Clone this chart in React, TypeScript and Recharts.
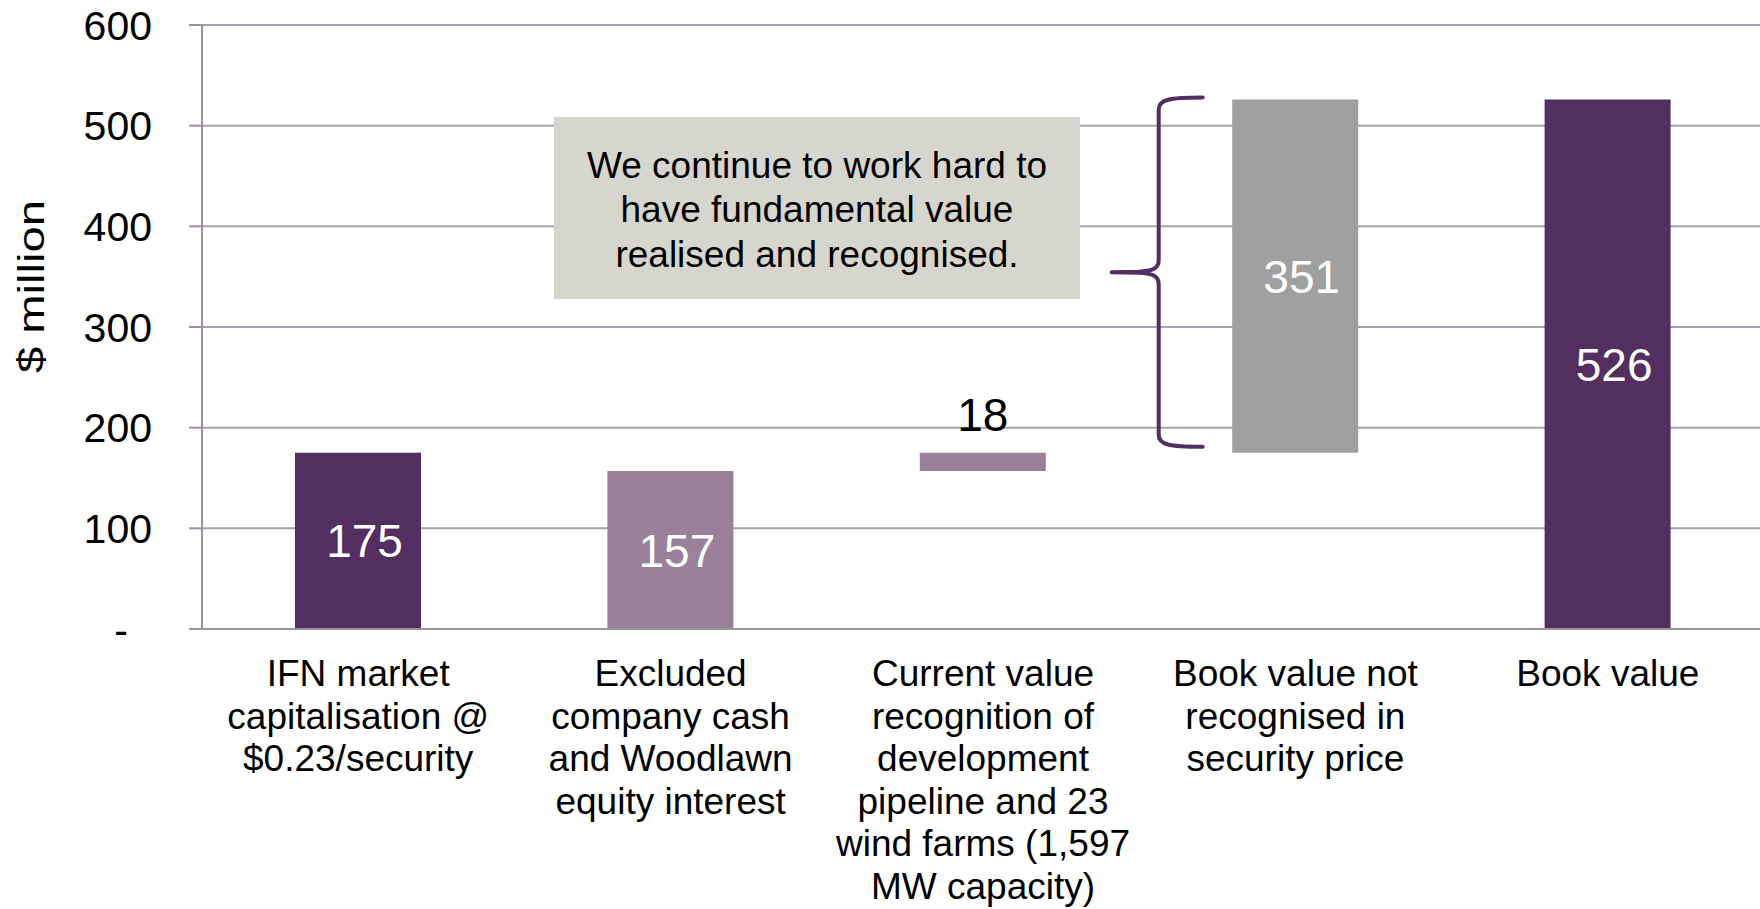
import React from 'react';
import {
  BarChart,
  Bar,
  XAxis,
  YAxis,
  CartesianGrid,
  Cell,
  LabelList,
  ReferenceArea,
} from 'recharts';

// ---------- data ----------
const categoryLabelLines: string[][] = [
  ['IFN market', 'capitalisation @', '$0.23/security'],
  ['Excluded', 'company cash', 'and Woodlawn', 'equity interest'],
  ['Current value', 'recognition of', 'development', 'pipeline and 23', 'wind farms (1,597', 'MW capacity)'],
  ['Book value not', 'recognised in', 'security price'],
  ['Book value'],
];
const categories: string[] = categoryLabelLines.map((l) => l.join(' '));
const barStarts: number[] = [0, 0, 157, 175, 0];
const barValues: number[] = [175, 157, 18, 351, 526];
const barColors: string[] = ['#532E60', '#9A8099', '#9A8099', '#A0A0A0', '#532E60'];
const labelPlacement: string[] = ['inside', 'inside', 'top', 'inside', 'inside'];
const yTicks: number[] = [0, 100, 200, 300, 400, 500, 600];
const boundaryTicks: number[] = [0, 1, 2, 3, 4, 5];
const braceLow = 181;
const braceHigh = 528;
const noteLines: string[] = ['We continue to work hard to', 'have fundamental value', 'realised and recognised.'];
const yTitle = '$ million';

const data = categories.map((c, i) => ({
  name: c,
  base: barStarts[i],
  value: barValues[i],
  insideLabel: labelPlacement[i] === 'inside' ? barValues[i] : null,
  topLabel: labelPlacement[i] === 'top' ? barValues[i] : null,
}));

const FONT = '"Liberation Sans", Arial, Helvetica, sans-serif';
const GRID = '#A99FB2';
const AXIS = '#9C90A5';
const BRACE = '#532E60';

const lineMap: Record<string, string[]> = {};
categories.forEach((c, i) => {
  lineMap[c] = categoryLabelLines[i];
});

const CategoryTick = (props: any) => {
  const { x, y, payload } = props;
  const lines = lineMap[payload.value] || [String(payload.value)];
  return (
    <g transform={`translate(${x},${y})`}>
      <text textAnchor="middle" fontFamily={FONT} fontSize={37} fill="#000">
        {lines.map((l, i) => (
          <tspan key={i} x={0} y={45 + i * 42.5}>
            {l}
          </tspan>
        ))}
      </text>
    </g>
  );
};

const ValueTick = (props: any) => {
  const { x, y, payload } = props;
  const isZero = payload.value === 0;
  return (
    <text
      x={isZero ? x - 24 : x}
      y={y}
      dy="0.355em"
      textAnchor="end"
      fontFamily={FONT}
      fontSize={41}
      fill="#000"
    >
      {isZero ? '-' : payload.value}
    </text>
  );
};

const getBox = (props: any) => {
  const vb = props.viewBox || props;
  return { x: vb.x, y: vb.y, width: vb.width, height: vb.height };
};

const InsideLabel = (props: any) => {
  const { value } = props;
  if (value === null || value === undefined) return null;
  const { x, y, width, height } = getBox(props);
  return (
    <text
      x={x + width / 2 + 6.5}
      y={y + height / 2}
      dy="0.36em"
      textAnchor="middle"
      fontFamily={FONT}
      fontSize={46}
      fill="#FFFFFF"
    >
      {value}
    </text>
  );
};

const TopLabel = (props: any) => {
  const { value } = props;
  if (value === null || value === undefined) return null;
  const { x, y, width } = getBox(props);
  return (
    <text
      x={x + width / 2}
      y={y - 22}
      textAnchor="middle"
      fontFamily={FONT}
      fontSize={46}
      fill="#000000"
    >
      {value}
    </text>
  );
};

const BraceShape = (props: any) => {
  const { x, y, height } = props;
  if (x === undefined || y === undefined) return null;
  const top = y;
  const bottom = y + height;
  const mid = y + height / 2;
  const bx = x + 19.5;
  const tipX = x - 27.5;
  const endX = x + 63.5;
  const d = [
    `M ${endX} ${top}`,
    `C ${bx + 10} ${top} ${bx} ${top + 2} ${bx} ${top + 12}`,
    `L ${bx} ${mid - 12}`,
    `C ${bx} ${mid - 3} ${bx - 8} ${mid - 1} ${bx - 20} ${mid - 0.5}`,
    `L ${tipX} ${mid}`,
    `M ${tipX} ${mid}`,
    `L ${bx - 20} ${mid + 0.5}`,
    `C ${bx - 8} ${mid + 1} ${bx} ${mid + 3} ${bx} ${mid + 12}`,
    `L ${bx} ${bottom - 12}`,
    `C ${bx} ${bottom - 2} ${bx + 10} ${bottom} ${endX} ${bottom}`,
  ].join(' ');
  return <path d={d} fill="none" stroke={BRACE} strokeWidth={4} strokeLinecap="round" strokeLinejoin="round" />;
};

const YTitle = (props: any) => {
  const vb = props.viewBox || { x: 0, y: 25, width: 202, height: 604 };
  const cy = vb.y + vb.height / 2 - 40.5;
  return (
    <text
      transform={`translate(44,${cy}) rotate(-90)`}
      textAnchor="middle"
      fontFamily={FONT}
      fontSize={37}
      fill="#000"
      textLength={173}
      lengthAdjust="spacingAndGlyphs"
    >
      {yTitle}
    </text>
  );
};

export default function App() {
  return (
    <div style={{ position: 'absolute', left: 0, top: 0, width: 1760, height: 909, background: '#fff', overflow: 'hidden' }}>
      <BarChart
        width={1760}
        height={909}
        data={data}
        margin={{ top: 25, right: -4, bottom: 0, left: 0 }}
        barSize={126}
      >
        <CartesianGrid horizontal vertical={false} stroke={GRID} strokeWidth={2} />
        <XAxis
          xAxisId="b"
          dataKey="name"
          type="category"
          height={268}
          tickSize={0}
          tickMargin={0}
          interval={0}
          axisLine={false}
          tickLine={false}
          tick={<CategoryTick />}
        />
        <XAxis
          xAxisId="a"
          type="number"
          domain={[0, 5]}
          ticks={boundaryTicks}
          allowDataOverflow
          height={12}
          tickSize={12}
          tick={false}
          axisLine={{ stroke: AXIS, strokeWidth: 2 }}
          tickLine={{ stroke: AXIS, strokeWidth: 2 }}
        />
        <YAxis
          domain={[0, 600]}
          ticks={yTicks}
          width={202}
          tickSize={13}
          tickMargin={37}
          interval={0}
          axisLine={{ stroke: AXIS, strokeWidth: 2 }}
          tickLine={{ stroke: AXIS, strokeWidth: 2 }}
          tick={<ValueTick />}
          label={<YTitle />}
        />
        <Bar xAxisId="b" dataKey="base" stackId="w" fill="transparent" isAnimationActive={false} />
        <Bar xAxisId="b" dataKey="value" stackId="w" isAnimationActive={false}>
          {data.map((d, i) => (
            <Cell key={i} fill={barColors[i]} />
          ))}
          <LabelList dataKey="insideLabel" content={<InsideLabel />} />
          <LabelList dataKey="topLabel" content={<TopLabel />} />
        </Bar>
        <ReferenceArea
          xAxisId="b"
          x1={categories[3]}
          x2={categories[3]}
          y1={braceLow}
          y2={braceHigh}
          shape={<BraceShape />}
          ifOverflow="visible"
        />
      </BarChart>
      <svg
        width={1760}
        height={909}
        style={{ position: 'absolute', left: 0, top: 0, pointerEvents: 'none' }}
      >
        <rect x={554} y={117} width={526} height={182} fill="#D6D6CE" />
        <text textAnchor="middle" fontFamily={FONT} fontSize={37} fill="#000">
          {noteLines.map((l, i) => (
            <tspan key={i} x={817} y={178 + i * 44.3}>
              {l}
            </tspan>
          ))}
        </text>
      </svg>
    </div>
  );
}
